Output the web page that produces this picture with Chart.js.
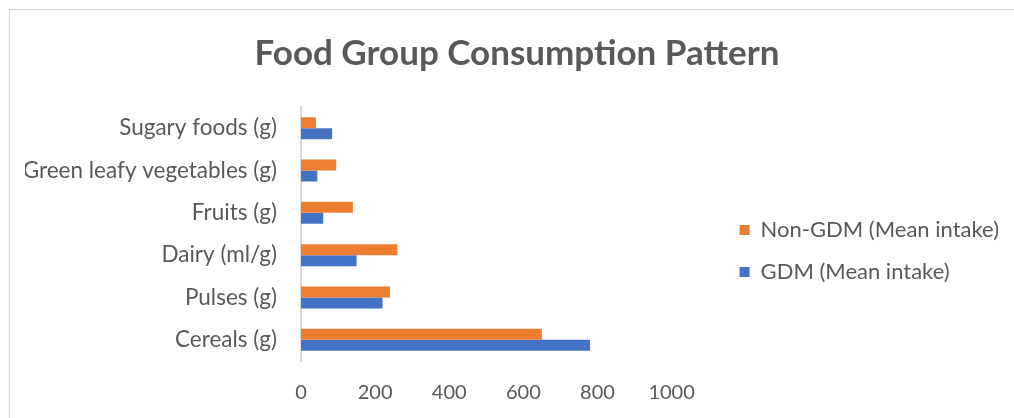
<!DOCTYPE html>
<html>
<head>
<meta charset="utf-8">
<script src="https://cdn.jsdelivr.net/npm/chart.js@4.4.1/dist/chart.umd.min.js"></script>
<style>
  html, body { margin: 0; padding: 0; background: #fff; }
  #wrap { position: relative; width: 1014px; height: 418px; overflow: hidden; }
  #frame { position: absolute; left: 9px; top: 9px; width: 1020px; height: 420px; border-left: 1px solid #d9d9d9; border-top: 1px solid #d9d9d9; }
  #foodChart { position: absolute; left: 0; top: 0; }
</style>
</head>
<body>
<div id="wrap">
  <div id="frame"></div>
  <canvas id="foodChart" width="1014" height="418"></canvas>
</div>
<script>
const categories = ["Sugary foods (g)", "Green leafy vegetables (g)", "Fruits (g)", "Dairy (ml/g)", "Pulses (g)", "Cereals (g)"];
const nonGdm = [40, 95, 140, 260, 240, 650];
const gdm = [84, 44, 60, 150, 220, 780];
const xTicks = [0, 200, 400, 600, 800, 1000];

const textColor = "#595959";
const fontFamily = "Lato, 'Open Sans', sans-serif";

const ctx = document.getElementById("foodChart").getContext("2d");

new Chart(ctx, {
  type: "bar",
  data: {
    labels: categories,
    datasets: [
      {
        label: "Non-GDM (Mean intake)",
        data: nonGdm,
        backgroundColor: "#ED7D31"
      },
      {
        label: "GDM (Mean intake)",
        data: gdm,
        backgroundColor: "#4472C4"
      }
    ]
  },
  options: {
    indexAxis: "y",
    responsive: false,
    animation: false,
    layout: { padding: { left: 25, top: 9, right: 5, bottom: 0 } },
    datasets: {
      bar: { categoryPercentage: 0.52, barPercentage: 1.0 }
    },
    plugins: {
      title: {
        display: true,
        text: "Food Group Consumption Pattern",
        color: textColor,
        font: { family: fontFamily, size: 35, weight: "bold", lineHeight: 1.2 },
        padding: { top: 24, bottom: 32 }
      },
      legend: {
        position: "right",
        fullSize: false,
        align: "center",
        maxWidth: 300,
        title: { display: true, text: " ", font: { size: 10, lineHeight: 1.2 }, padding: { top: 11, bottom: 11 } },
        labels: {
          color: textColor,
          font: { family: fontFamily, size: 22 },
          boxWidth: 10,
          boxHeight: 10,
          padding: 20
        }
      },
      tooltip: { enabled: false }
    },
    scales: {
      x: {
        min: 0,
        max: 1000,
        afterBuildTicks: function (scale) {
          scale.ticks = xTicks.map(v => ({ value: v }));
        },
        afterFit: function (scale) { scale.height = 57; },
        grid: { display: false, drawTicks: false },
        border: { display: false },
        ticks: {
          color: textColor,
          font: { family: fontFamily, size: 20 },
          padding: 20,
          callback: function (value) { return String(value); }
        }
      },
      y: {
        afterFit: function (scale) { scale.width = 276; },
        grid: { display: false, drawTicks: false },
        border: { display: true, color: "#d9d9d9", width: 2 },
        ticks: {
          color: textColor,
          font: { family: fontFamily, size: 22.5 },
          padding: 24
        }
      },
      // empty spacer between the plot and the legend
      y2: {
        position: "right",
        afterFit: function (scale) { scale.width = 48; },
        grid: { display: false, drawTicks: false },
        border: { display: false },
        ticks: { display: false }
      }
    }
  }
});
</script>
</body>
</html>
